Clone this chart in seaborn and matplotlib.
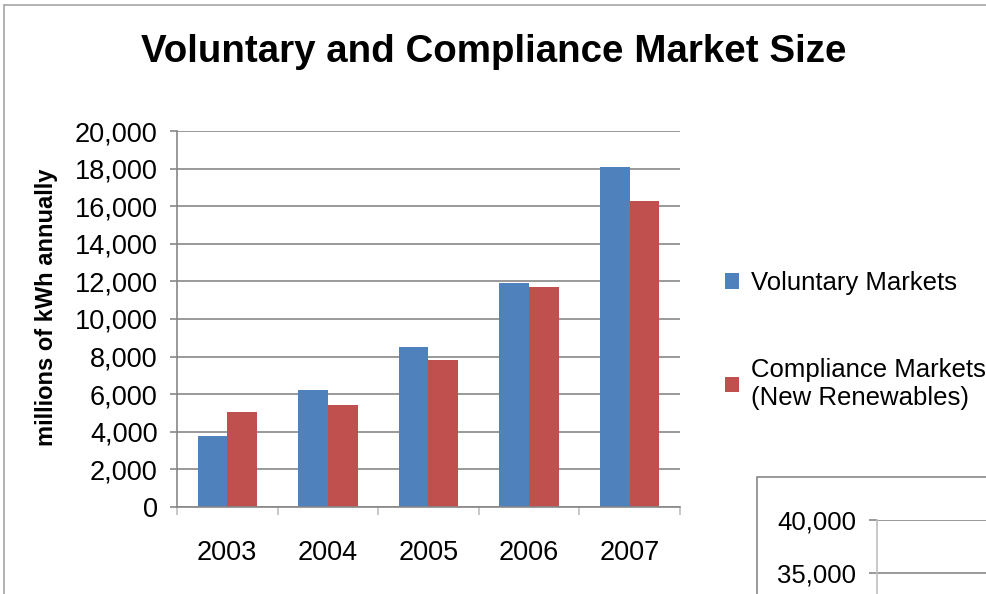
import matplotlib
matplotlib.use("Agg")
import matplotlib.pyplot as plt
from matplotlib.lines import Line2D
from matplotlib.patches import Rectangle
import seaborn as sns
import pandas as pd

years = ["2003", "2004", "2005", "2006", "2007"]
voluntary = [3800, 6200, 8500, 11900, 18100]
compliance = [5070, 5400, 7800, 11700, 16300]
series_names = ["Voluntary Markets", "Compliance Markets\n(New Renewables)"]
colors = ["#4F81BD", "#C0504D"]
yticks = [0, 2000, 4000, 6000, 8000, 10000, 12000, 14000, 16000, 18000, 20000]
inset_ticks = [35000, 40000]

df = pd.DataFrame({
    "year": years * 2,
    "value": voluntary + compliance,
    "series": [series_names[0]] * len(years) + [series_names[1]] * len(years),
})

sns.set_theme(style="white")
plt.rcParams["font.family"] = ["Liberation Sans", "DejaVu Sans"]

W, H = 987, 594
fig = plt.figure(figsize=(W / 100, H / 100), dpi=100)

def fx(px):
    return px / W

def fy(py):
    return 1 - py / H

ax = fig.add_axes([fx(177), fy(507), fx(680) - fx(177), fy(131) - fy(507)])
sns.barplot(data=df, x="year", y="value", hue="series", palette=colors,
            width=0.59, saturation=1, gap=0, ax=ax, linewidth=0,
            edgecolor="none", legend=True)

grid_c = "#878787"
ax.set_ylim(0, 20000)
ax.set_xlim(-0.5, len(years) - 0.5)
ax.set_yticks(yticks)
ax.set_yticklabels([f"{v:,}" for v in yticks], fontsize=19.5)
ax.yaxis.grid(True, color=grid_c, linewidth=1.2)
ax.set_axisbelow(True)
for s in ["top", "right"]:
    ax.spines[s].set_visible(False)
ax.spines["left"].set_color(grid_c)
ax.spines["left"].set_linewidth(1.2)
ax.spines["bottom"].set_color(grid_c)
ax.spines["bottom"].set_linewidth(1.2)
ax.tick_params(axis="y", which="major", length=5, width=1.2, color=grid_c,
               pad=9, labelcolor="black", left=True)
ax.tick_params(axis="x", which="major", length=0, pad=24, labelsize=19.5,
               labelcolor="black")
ax.set_xticks(range(len(years)))
ax.set_xticks([i - 0.5 for i in range(len(years) + 1)], minor=True)
ax.tick_params(axis="x", which="minor", length=6, width=1.2, color="#BFBFBF",
               bottom=True)
ax.set_xlabel("")
ax.set_ylabel("millions of kWh annually", fontsize=17, fontweight="bold",
              color="black")
ax.yaxis.set_label_coords((58 - 177) / 503, 0.53)

handles, labels = ax.get_legend_handles_labels()
ax.legend_.remove()
leg = fig.legend(handles, labels, loc="upper left",
                 bbox_to_anchor=(fx(702), fy(248)), frameon=False,
                 fontsize=18.5, handlelength=0.55, handleheight=0.55,
                 handletextpad=0.45, labelspacing=2.45)
for t in leg.get_texts():
    t.set_color("black")

fig.suptitle("Voluntary and Compliance Market Size", x=0.5, y=fy(52),
             va="center", fontsize=27.7, fontweight="bold", color="black")

# slide frame lines
fig.add_artist(Line2D([fx(4), 1], [fy(5), fy(5)], color="#A6A6A6", lw=1.2))
fig.add_artist(Line2D([fx(4), fx(4)], [fy(5), 0], color="#A6A6A6", lw=1.2))

# partially visible second chart
fig.add_artist(Rectangle((fx(757), fy(700)), 0.5, fy(477) - fy(700),
                         facecolor="white", edgecolor="#878787", lw=1.2,
                         zorder=0.5))
ax2 = fig.add_axes([fx(877), 0, 1 - fx(877), fy(520)], zorder=3)
top = 40000
span = (594 - 520) / 53 * 5000
ax2.set_ylim(top - span, top)
ax2.set_yticks(inset_ticks)
ax2.set_yticklabels([f"{v:,}" for v in inset_ticks], fontsize=18.5)
ax2.yaxis.grid(True, color=grid_c, linewidth=1.2)
ax2.set_xticks([])
for s in ["top", "right", "bottom"]:
    ax2.spines[s].set_visible(False)
ax2.spines["left"].set_color("#BFBFBF")
ax2.spines["left"].set_linewidth(1.2)
ax2.tick_params(axis="y", length=6, width=1.2, color=grid_c, pad=9, left=True,
                labelcolor="black")
ax2.patch.set_alpha(0)

fig.savefig("out.png", dpi=100)
